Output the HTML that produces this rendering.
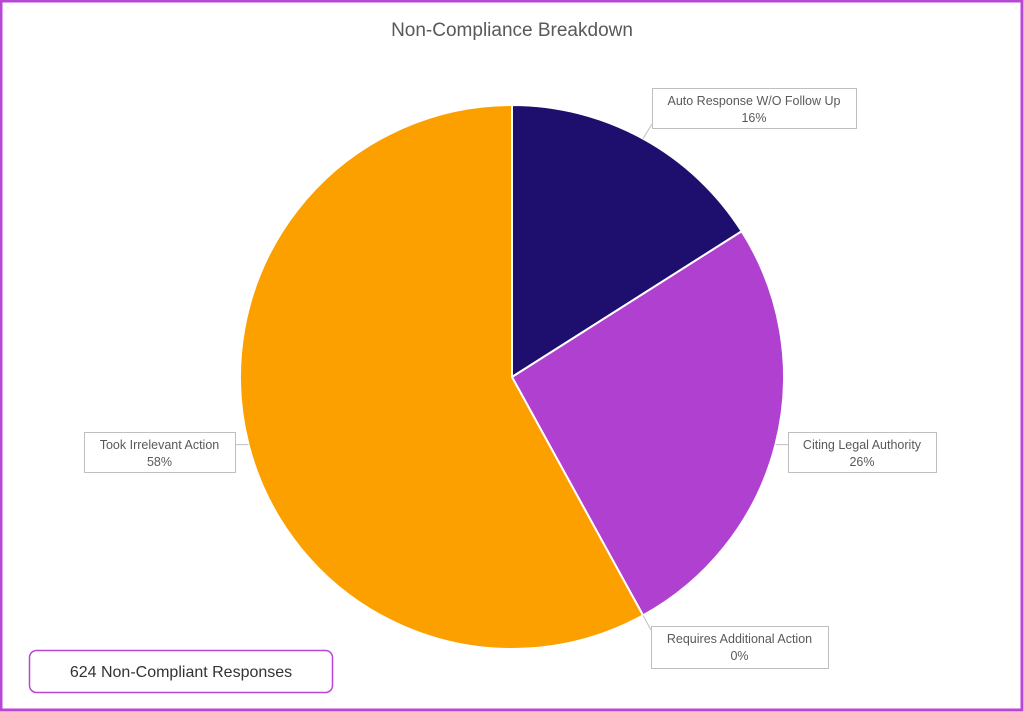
<!DOCTYPE html>
<html><head><meta charset="utf-8"><style>
html,body{margin:0;padding:0;background:#fff;}
svg{display:block;font-family:"Liberation Sans",sans-serif;}
</style></head><body>
<svg id="chart" width="1024" height="712" viewBox="0 0 1024 712">
<rect x="1" y="1" width="1021" height="709" fill="#fff" stroke="#b847d6" stroke-width="3"/>
<text x="512" y="36" text-anchor="middle" font-size="19" fill="#595959">Non-Compliance Breakdown</text>
<g id="slices"></g>
<g id="labels"></g>
<rect x="29.5" y="650.5" width="303" height="42" rx="7" fill="#fff" stroke="#b847d6" stroke-width="1.5"/>
<text x="181" y="677" text-anchor="middle" font-size="16" fill="#333">624  Non-Compliant Responses</text>
</svg>
<script>
const categories = ["Auto Response W/O Follow Up","Citing Legal Authority","Requires Additional Action","Took Irrelevant Action"];
const values = [16, 26, 0, 58];
const colors = ["#1e0f6e","#b040cf","#9a9a9a","#fca000"];
const labelBoxes = [[652,88,204,40],[788,432,148,40],[651,626,177,42],[84,432,151,40]];
const cx=512, cy=377, r=272;
const NS="http://www.w3.org/2000/svg";
const total = values.reduce((a,b)=>a+b,0);
const gS=document.getElementById('slices'), gL=document.getElementById('labels');
function pt(a,rr){return [cx+rr*Math.sin(a), cy-rr*Math.cos(a)];}
let acc=0;
values.forEach((v,i)=>{
  const a0=acc/total*2*Math.PI; acc+=v; const a1=acc/total*2*Math.PI;
  if(v>0){
    const p0=pt(a0,r), p1=pt(a1,r), large=(a1-a0)>Math.PI?1:0;
    const path=document.createElementNS(NS,'path');
    path.setAttribute('d',`M${cx},${cy} L${p0[0]},${p0[1]} A${r},${r} 0 ${large} 1 ${p1[0]},${p1[1]} Z`);
    path.setAttribute('fill',colors[i]); path.setAttribute('stroke','#fff'); path.setAttribute('stroke-width','2');
    
    
    gS.appendChild(path);
  }
  const mid=(a0+a1)/2, anchor=pt(mid,r);
  const b=labelBoxes[i];
  const bx=b[0]+b[2]/2, by=b[1]+b[3]/2;
  const ex = anchor[0]<bx ? b[0] : b[0]+b[2];
  const leader=document.createElementNS(NS,'polyline');
  const ey = Math.max(b[1]+4,Math.min(b[1]+b[3]-4,anchor[1]));
  leader.setAttribute('points',`${anchor[0]},${anchor[1]} ${Math.abs(anchor[0]-b[0])<Math.abs(anchor[0]-b[0]-b[2])?b[0]:b[0]+b[2]},${ey}`);
  leader.setAttribute('fill','none'); leader.setAttribute('stroke','#bfbfbf'); leader.setAttribute('stroke-width','1');
  
  
  gL.appendChild(leader);
  const rect=document.createElementNS(NS,'rect');
  rect.setAttribute('x',b[0]+0.5); rect.setAttribute('y',b[1]+0.5); rect.setAttribute('width',b[2]); rect.setAttribute('height',b[3]);
  rect.setAttribute('fill','#fff'); rect.setAttribute('stroke','#bfbfbf');
  
  
  gL.appendChild(rect);
  const t1=document.createElementNS(NS,'text');
  t1.setAttribute('x',bx); t1.setAttribute('y',b[1]+17); t1.setAttribute('text-anchor','middle');
  t1.setAttribute('font-size','12.5'); t1.setAttribute('fill','#595959');
  t1.textContent=categories[i];
  
  
  gL.appendChild(t1);
  const t2=document.createElementNS(NS,'text');
  t2.setAttribute('x',bx); t2.setAttribute('y',b[1]+34); t2.setAttribute('text-anchor','middle');
  t2.setAttribute('font-size','12.5'); t2.setAttribute('fill','#595959');
  t2.textContent=Math.round(v/total*100)+'%';
  
  
  gL.appendChild(t2);
});
</script>
</body></html>
